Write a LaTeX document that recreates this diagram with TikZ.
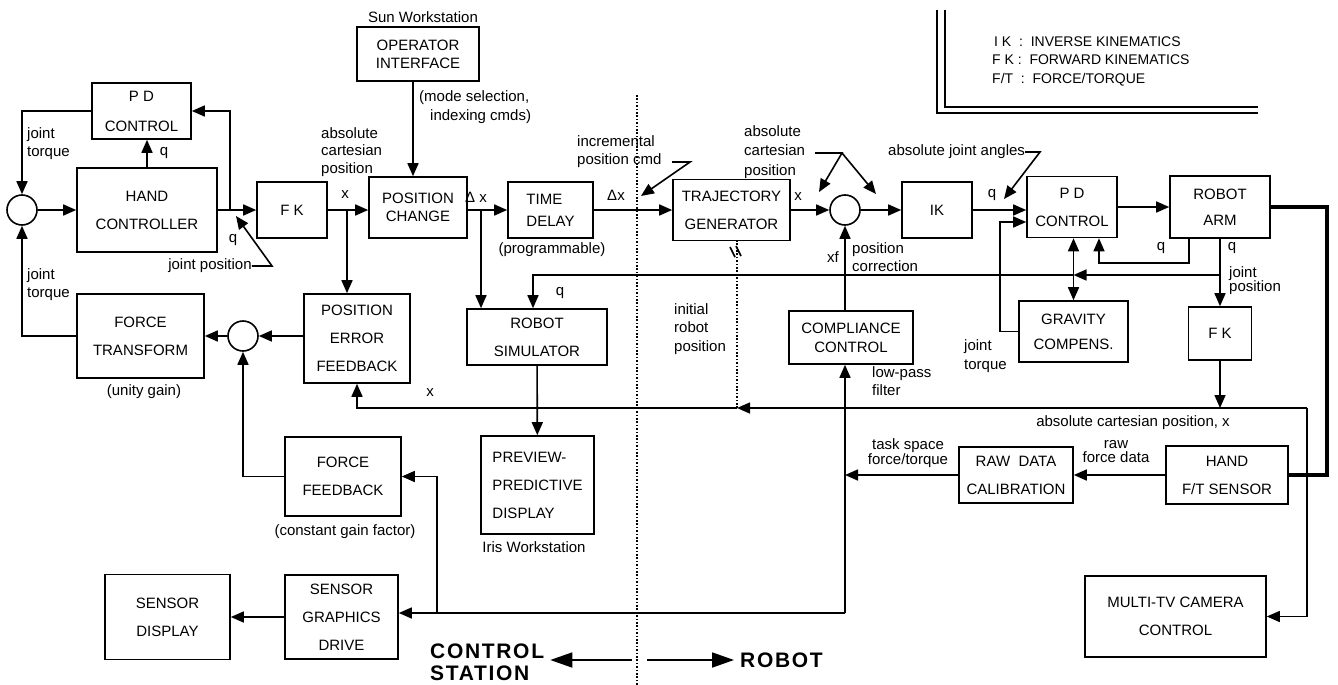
\documentclass[tikz,border=0pt]{standalone}
\usepackage{fontspec}
\setmainfont{Liberation Sans}
\usetikzlibrary{arrows.meta}

\tikzset{
  blk/.style={draw, line width=1.6pt, inner sep=0pt, align=center, font=\fontsize{15}{28}\selectfont},
  tight/.style={font=\fontsize{15}{18}\selectfont},
  sumpt/.style={draw, circle, line width=1.6pt, minimum size=30pt, inner sep=0pt},
  lbl/.style={inner sep=0pt, font=\fontsize{15}{18}\selectfont},
  lgd/.style={inner sep=0pt, anchor=west, font=\fontsize{14}{16}\selectfont},
  ln/.style={line width=1.6pt},
  arr/.style={line width=1.6pt, -{Triangle[length=13pt,width=11pt]}},
  dblarr/.style={line width=1.6pt, {Triangle[length=13pt,width=11pt]}-{Triangle[length=13pt,width=11pt]}},
  bigarr/.style={line width=1.8pt, -{Triangle[length=22pt,width=15pt]}, shorten >=6pt},
  heavy/.style={line width=4.5pt},
  dotln/.style={line width=1.5pt, dash pattern=on 1.6pt off 1.8pt},
}

\begin{document}
\begin{tikzpicture}[x=1pt,y=1pt,yscale=-1]
\useasboundingbox (0,0) rectangle (1338,685);

% blocks, control station side
\node[blk, font=\fontsize{15}{30}\selectfont, minimum width=99, minimum height=56] (pdA) at (141.5,111) {P D\\CONTROL};
\node[blk, minimum width=140, minimum height=84] (hc) at (147,210) {HAND\\CONTROLLER};
\node[sumpt] (sumA) at (22,210) {};
\node[blk, minimum width=70, minimum height=56] (fkA) at (292,210) {F K};
\node[blk, minimum width=127, minimum height=84] (ftr) at (140.5,336) {FORCE\\TRANSFORM};
\node[sumpt] (sumB) at (243,336) {};
\node[blk, minimum width=106, minimum height=89] (pef) at (357,338.5) {POSITION\\ERROR\\FEEDBACK};
\node[blk, tight, minimum width=122, minimum height=54] (opi) at (418,54) {OPERATOR\\INTERFACE};
\node[blk, tight, minimum width=98, minimum height=61] (pch) at (418,207.5) {POSITION\\CHANGE};
\node[blk, align=left, font=\fontsize{15}{22}\selectfont, minimum width=85, minimum height=56] (tdl) at (550.5,210) {TIME\\DELAY};
\node[blk, minimum width=140, minimum height=56] (rsm) at (537,337) {ROBOT\\SIMULATOR};
\node[blk, align=left, minimum width=113, minimum height=98] (ppd) at (537.5,485) {PREVIEW-\\PREDICTIVE\\DISPLAY};
\node[blk, minimum width=116, minimum height=79] (ffb) at (343,476.5) {FORCE\\FEEDBACK};
\node[blk, minimum width=113, minimum height=84] (sgd) at (341.5,617) {SENSOR\\GRAPHICS\\DRIVE};
\node[blk, minimum width=125, minimum height=85] (sdp) at (167.5,617) {SENSOR\\DISPLAY};

% blocks, robot side
\node[blk, minimum width=117, minimum height=61] (tgn) at (731.5,210) {TRAJECTORY\\GENERATOR};
\node[sumpt] (sumC) at (845,210) {};
\node[blk, minimum width=70, minimum height=56] (ikn) at (937,210) {IK};
\node[blk, minimum width=90, minimum height=61] (pdB) at (1072,207) {P D\\CONTROL};
\node[blk, font=\fontsize{15}{26}\selectfont, minimum width=100, minimum height=62] (ram) at (1220,207) {ROBOT\\ARM};
\node[blk, font=\fontsize{15}{25}\selectfont, minimum width=109, minimum height=61] (gcp) at (1073.5,331.5) {GRAVITY\\COMPENS.};
\node[blk, minimum width=63, minimum height=53] (fkB) at (1220,333.5) {F K};
\node[blk, font=\fontsize{15}{19}\selectfont, minimum width=124, minimum height=53] (ccl) at (851,337.5) {COMPLIANCE\\CONTROL};
\node[blk, minimum width=114, minimum height=56] (rdc) at (1016,475) {RAW\ \ DATA\\CALIBRATION};
\node[blk, minimum width=122, minimum height=58] (hft) at (1227,475) {HAND\\F/T SENSOR};
\node[blk, minimum width=181, minimum height=81] (mtv) at (1175.5,616.5) {MULTI-TV CAMERA\\CONTROL};

% junctions
\coordinate (jA) at (230,210);
\coordinate (jB) at (347,210);
\coordinate (jC) at (481,210);
\coordinate (jD) at (1000,222);
\coordinate (jE) at (1220,275);
\coordinate (jF) at (533,275);
\coordinate (jG) at (1307,408);
\coordinate (jI) at (737,408);
\coordinate (jK) at (845,613);
\coordinate (jL) at (437,613);
\coordinate (jM) at (1327,207);
\coordinate (jN) at (413,100);
\coordinate (qA) at (1189,263);
\coordinate (qB) at (1099,263);

% connectors
\draw[arr] (sumA) -- (hc);
\draw[arr] (hc) -- (fkA);
\draw[arr] (jA) |- (pdA.east);
\draw[arr] (hc.north) -- (hc.north |- pdA.south);
\draw[arr] (pdA.west) -| (sumA.north);
\draw[arr] (ftr.west) -| (sumA.south);
\draw[arr] (sumB) -- (ftr);
\draw[arr] (pef.west |- sumB) -- (sumB);
\draw[arr] (ffb.west) -| (sumB.south);
\draw[arr] (fkA) -- (fkA -| pch.west);
\draw[arr] (jB) -- (jB |- pef.north);
\draw[arr] (opi.south -| jN) -- (pch.north -| jN);
\draw[arr] (pch.east |- tdl) -- (tdl);
\draw[arr] (jC) -- (jC |- rsm.north);
\draw[arr] (rsm) -- (ppd);
\draw[arr] (tdl) -- (tgn);
\draw[arr] (tgn) -- (sumC);
\draw[arr] (sumC) -- (ikn);
\draw[arr] (ikn) -- (ikn -| pdB.west);
\draw[arr] (gcp.west) -| (jD) -- (jD -| pdB.west);
\draw[arr] (pdB) -- (ram);
\draw[heavy] (ram.east) -- (jM) |- (hft.east);
\draw[arr] (ram.south -| qA) -- (qA) -- (qB) -- (qB |- pdB.south);
\draw[arr] (ram.south) -- (fkB.north);
\draw[arr] (jE) -- (jE -| gcp.north);
\draw[arr] (jE -| gcp.north) -- (jF) -- (jF |- rsm.north);
\draw[dblarr] (pdB.south -| gcp.north) -- (gcp.north);
\draw[arr] (fkB.south) -- (fkB.south |- jG);
\draw[arr] (jG) -- (jI);
\draw[arr] (jI) -| (pef.south);
\draw[arr] (jG) |- (mtv.east);
\draw[dotln] (jI) -- (jI |- tgn.south);
\draw[ln] (730,247) -- (735,257);
\draw[ln] (736,246) -- (741,256);
\draw[arr] (hft) -- (rdc);
\draw[arr] (rdc.west) -- (rdc.west -| sumC);
\draw[arr] (ccl.north -| sumC) -- (sumC.south);
\draw[arr] (jK) -- (jK |- ccl.south);
\draw[arr] (jK) -- (jK -| sgd.east);
\draw[arr] (jL) |- (ffb.east);
\draw[arr] (sgd) -- (sdp);

% Text Node
\node[lbl, align=left, anchor=west] (jtA) at (27,144) {joint\\torque};
\node[lbl, align=left, anchor=west] (jtB) at (27,285) {joint\\torque};
\node[lbl] (lq1) at (164,153) {q};
\node[lbl] (lq2) at (233,240) {q};
\node[lbl] (jpos) at (210,266) {joint position};
\node[lbl, align=left, anchor=west, font=\fontsize{15}{17.5}\selectfont] (acpA) at (321,152) {absolute\\cartesian\\position};
\node[lbl] (lxA) at (345,195) {x};
\node[lbl] (sunw) at (423,17) {Sun Workstation};
\node[lbl, align=left, anchor=west, font=\fontsize{15}{19}\selectfont] (msel) at (419,107) {(mode selection,\\\hspace*{11pt}indexing cmds)};
\node[lbl] (ldxA) at (476,197) {Δ x};
\node[lbl] (prog) at (552,250) {(programmable)};
\node[lbl] (ldxB) at (616,195) {Δx};
\node[lbl, align=left, anchor=west] (ipc) at (577,152) {incremental\\position cmd};
\node[lbl] (lxB) at (798,197) {x};
\node[lbl, align=left, anchor=west, font=\fontsize{15}{19.5}\selectfont] (acpB) at (744,152) {absolute\\cartesian\\position};
\node[lbl] (lxf) at (833,257) {xf};
\node[lbl, align=left, anchor=west] (pcor) at (852,257) {position\\correction};
\node[lbl] (lq3) at (992,195) {q};
\node[lbl, anchor=west] (aja) at (888,152) {absolute joint angles};
\node[lbl] (lq4) at (1161,248) {q};
\node[lbl] (lq5) at (1232,248) {q};
\node[lbl, align=left, anchor=west, font=\fontsize{15}{14}\selectfont] (jposB) at (1229,281) {joint\\position};
\node[lbl, align=left, anchor=west, font=\fontsize{15}{19}\selectfont] (jtC) at (964,356) {joint\\torque};
\node[lbl] (lq6) at (560,293) {q};
\node[lbl, align=left, anchor=west, font=\fontsize{15}{18.5}\selectfont] (irp) at (674,329) {initial\\robot\\position};
\node[lbl, align=left, anchor=west] (lpf) at (872,381) {low-pass\\filter};
\node[lbl] (unit) at (144,392) {(unity gain)};
\node[lbl] (lxC) at (430,393) {x};
\node[lbl] (cgf) at (345,532) {(constant gain factor)};
\node[lbl] (iris) at (534,547) {Iris Workstation};
\node[lbl] (acpC) at (1133,423) {absolute cartesian position, x};
\node[lbl, align=center, font=\fontsize{15}{13}\selectfont] (tsf) at (908,453) {task space\\force/torque};
\node[lbl, align=center, font=\fontsize{15}{14}\selectfont] (rfd) at (1116,452) {raw\\force data};

% pointer lines
\coordinate (kA) at (272,266);
\coordinate (tpA) at (236,216);
\draw[arr] (jpos.east) -- (kA) -- (tpA);
\coordinate (kD) at (672,162);
\coordinate (kE) at (690,162);
\coordinate (tpD) at (641,196);
\draw[arr] (kD) -- (kE) -- (tpD);
\coordinate (kC) at (815,153);
\coordinate (kB) at (842,153);
\coordinate (tpB) at (819,192);
\coordinate (tpC) at (876,194);
\draw[arr] (kC) -- (kB) -- (tpB);
\draw[arr] (kB) -- (tpC);
\coordinate (kG) at (1040,152);
\coordinate (tpE) at (1004,199);
\draw[arr] (aja.east) -- (kG) -- (tpE);

% legend
\draw[line width=1.1pt] (937,10) |- (1258,113);
\draw[line width=1.1pt] (945,10) |- (1258,107);
\node[lgd] (lgA) at (994,42) {I K\ \ :\ \ INVERSE KINEMATICS};
\node[lgd] (lgB) at (992,60) {F K\ :\ \ FORWARD KINEMATICS};
\node[lgd] (lgC) at (992,80) {F/T\ \ :\ \ FORCE/TORQUE};

% divider
\coordinate (dvT) at (637,95);
\coordinate (dvB) at (637,685);
\draw[dotln] (dvT) -- (dvB);
\node[inner sep=0pt, anchor=west, align=left, font=\bfseries\fontsize{21}{22}\addfontfeature{LetterSpace=8}\selectfont] (cst) at (430,662) {CONTROL\\STATION};
\node[inner sep=0pt, anchor=west, font=\bfseries\fontsize{21}{22}\addfontfeature{LetterSpace=8}\selectfont] (rbt) at (740,660) {ROBOT};
\coordinate (dvL) at (632,660);
\coordinate (dvR) at (647,660);
\draw[bigarr] (dvL) -- (cst.east |- dvL);
\draw[bigarr] (dvR) -- (rbt.west |- dvR);

\end{tikzpicture}
\end{document}
